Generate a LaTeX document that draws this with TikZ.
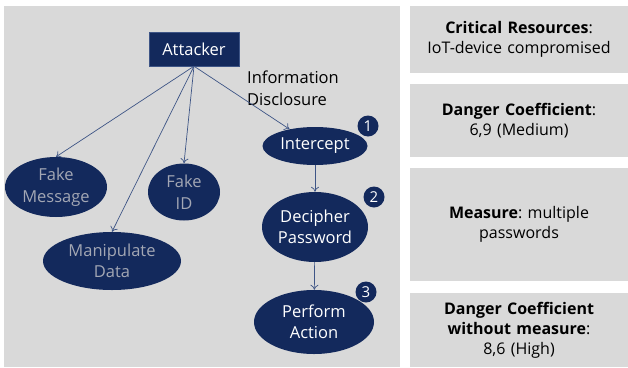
\documentclass[tikz,border=0pt]{standalone}
\usepackage{fontspec}
\setmainfont{Open Sans}
\frenchspacing
\usetikzlibrary{shapes.geometric,arrows.meta}
\definecolor{navy}{HTML}{13295C}
\definecolor{panel}{HTML}{D9D9D9}
\definecolor{link}{HTML}{3E5586}
\definecolor{dimtext}{HTML}{A3A7B4}
\begin{document}
\begin{tikzpicture}[x=1pt,y=-1pt,
    every node/.style={inner sep=0pt, font=\fontsize{16.5}{21.5}\selectfont},
    attack/.style={ellipse, fill=navy, align=center, text=white},
    unused/.style={attack, text=dimtext},
    badge/.style={circle, fill=navy, minimum size=21pt, text=white, font=\fontsize{15}{15}\selectfont},
    infobox/.style={fill=panel, minimum width=218pt, align=center, text width=210pt, font=\fontsize{16}{20}\selectfont},
    link/.style={draw=link, line width=0.7pt, -{To[length=5pt,width=8pt]}}]
      \useasboundingbox (0,0) rectangle (628,367);
      \fill [white] (0,0) rectangle (628,367);
      \fill [panel] (4,6) rectangle (400,367);
      % attack tree
      \node [fill=navy, draw=link, text=white, minimum width=90pt, minimum height=34pt] (att) at (194,49) {Attacker};
      \node [anchor=north west, align=left] (info) at (247,71) {Information\\Disclosure};
      \node [unused, minimum width=102pt, minimum height=60pt] (msg) at (56,187) {Fake\\Message};
      \node [unused, minimum width=72pt, minimum height=57pt] (fid) at (184,192) {Fake\\ID};
      \node [unused, minimum width=138pt, minimum height=58pt] (mdata) at (112,261) {Manipulate\\Data};
      \node [attack, minimum width=105pt, minimum height=38pt] (icpt) at (315,146) {Intercept};
      \node [attack, minimum width=106pt, minimum height=70pt] (pwd) at (315,227) {Decipher\\Password};
      \node [attack, minimum width=120pt, minimum height=64pt] (act) at (314,322) {Perform\\Action};
      \node [badge] (b1) at (368,126) {1};
      \node [badge] (b2) at (374,197) {2};
      \node [badge] (b3) at (366,292) {3};
      \draw [link] (att.south) -- (msg.north);
      \draw [link] (att.south) -- (mdata.north);
      \draw [link] (att.south) -- (fid.north);
      \draw [link] (att.south) -- (icpt);
      \draw [link] (icpt) -- (pwd);
      \draw [link] (pwd) -- (act);
      % side notes
      \node [infobox, minimum height=67pt] (res) at (519,39.5) {\textbf{Critical Resources}:\\IoT-device compromised};
      \node [infobox, minimum height=73pt] (dng) at (519,120.5) {\textbf{Danger Coefficient}:\\6,9 (Medium)};
      \node [infobox, minimum height=113pt] (meas) at (519,224.5) {\textbf{Measure}: multiple\\passwords};
      \node [infobox, minimum height=74pt] (dngw) at (519,330) {\textbf{Danger Coefficient}\\\textbf{without measure}:\\8,6 (High)};
\end{tikzpicture}
\end{document}
